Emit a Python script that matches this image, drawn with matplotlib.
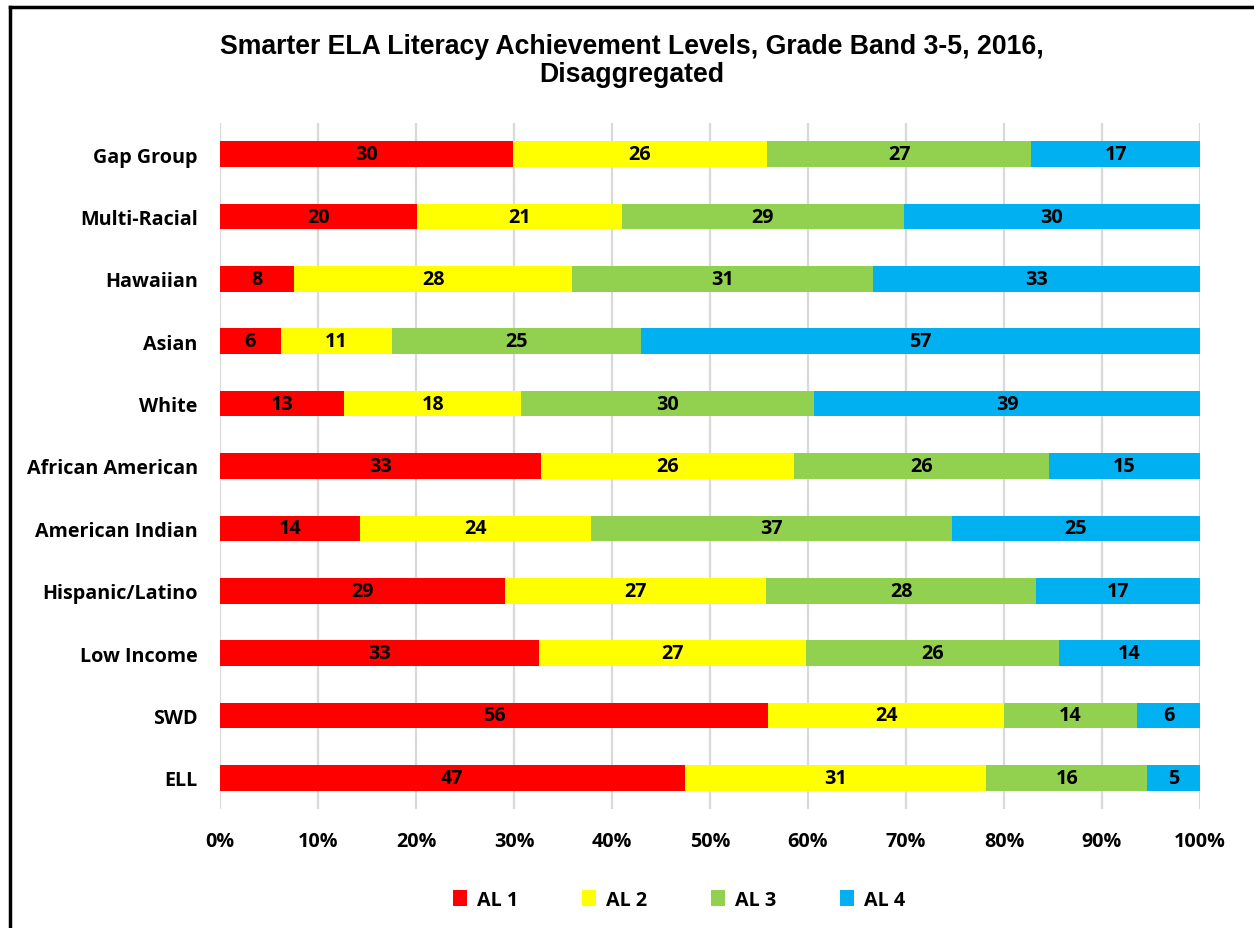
import matplotlib
matplotlib.use("Agg")
import matplotlib.pyplot as plt
from matplotlib.lines import Line2D
from matplotlib.patches import Patch
import numpy as np

categories = ["Gap Group", "Multi-Racial", "Hawaiian", "Asian", "White",
              "African American", "American Indian", "Hispanic/Latino",
              "Low Income", "SWD", "ELL"]
al1 = [29.9, 20.1, 7.6, 6.2, 12.7, 32.7, 14.3, 29.1, 32.6, 55.9, 47.4]
al2 = [25.9, 20.9, 28.3, 11.4, 18.0, 25.8, 23.6, 26.6, 27.2, 24.0, 30.8]
al3 = [27.0, 28.8, 30.7, 25.4, 29.9, 26.0, 36.8, 27.6, 25.8, 13.6, 16.4]
al4 = [17.2, 30.2, 33.4, 57.0, 39.4, 15.4, 25.3, 16.7, 14.4, 6.4, 5.4]
series_names = ["AL 1", "AL 2", "AL 3", "AL 4"]
colors = ["#FF0000", "#FFFF00", "#92D050", "#00B0F0"]
xticks = [0, 10, 20, 30, 40, 50, 60, 70, 80, 90, 100]

FONT = "Open Sans"
FS = 14.2

fig = plt.figure(figsize=(12.54, 9.29), dpi=100)
W, H = 1254, 929
ax = fig.add_axes([220 / W, 1 - 810 / H, 980 / W, (810 - 124) / H])

series = np.array([al1, al2, al3, al4])
totals = series.sum(axis=0)
pct = series / totals * 100
y = np.arange(len(categories))
left = np.zeros(len(categories))
for i, name in enumerate(series_names):
    ax.barh(y, pct[i], left=left, height=0.41, color=colors[i], label=name, zorder=3)
    for j in range(len(categories)):
        ax.text(left[j] + pct[i][j] / 2, y[j], f"{series[i][j]:.0f}",
                ha="center", va="center", fontsize=FS, fontweight="bold",
                family=FONT, color="black", zorder=4)
    left += pct[i]

ax.set_ylim(len(categories) - 0.5, -0.5)
ax.set_xlim(0, 100)
ax.set_yticks(y)
ax.set_yticklabels(categories, fontsize=FS, fontweight="bold", family=FONT)
ax.set_xticks(xticks)
ax.set_xticklabels([f"{t}%" for t in xticks], fontsize=FS, fontweight="bold", family=FONT)
ax.tick_params(axis="y", length=0, pad=16)
ax.tick_params(axis="x", length=0, pad=16)
for s in ax.spines.values():
    s.set_visible(False)
ax.grid(axis="x", color="#D9D9D9", linewidth=1.6, zorder=0)
ax.set_axisbelow(True)

fig.text(0.504, 1 - 47 / H, "Smarter ELA Literacy Achievement Levels, Grade Band 3-5, 2016,",
         ha="center", va="center", fontsize=19.2, fontweight="bold", family="Liberation Sans")
fig.text(0.504, 1 - 75 / H, "Disaggregated",
         ha="center", va="center", fontsize=19.2, fontweight="bold", family="Liberation Sans")

handles = [Patch(facecolor=c, label=n) for c, n in zip(colors, series_names)]
fig.legend(handles=handles, loc="center", bbox_to_anchor=(679 / W, 1 - 901 / H), ncol=4,
           frameon=False, handlelength=0.7, handleheight=0.9, handletextpad=0.5,
           columnspacing=3.25, prop={"family": FONT, "weight": "bold", "size": FS})

# outer border (left and top)
fig.add_artist(Line2D([10 / W, 10 / W], [0, 1 - 8 / H], color="black", linewidth=2.5,
                      transform=fig.transFigure))
fig.add_artist(Line2D([10 / W, 1], [1 - 8 / H, 1 - 8 / H], color="black", linewidth=2.5,
                      transform=fig.transFigure))

fig.savefig("out.png", dpi=100)
